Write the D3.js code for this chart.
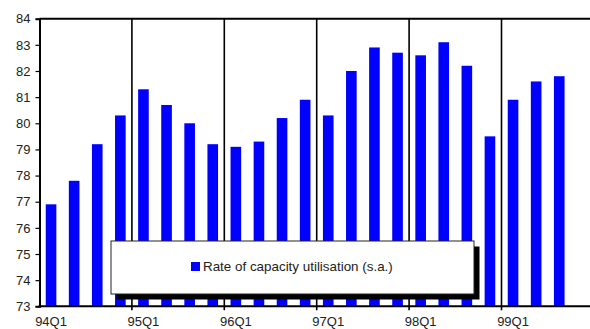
<!DOCTYPE html>
<html>
<head>
<meta charset="utf-8">
<script src="https://cdn.jsdelivr.net/npm/d3@7"></script>
<style>
body{margin:0;background:#fff;}
svg{display:block;font-family:"Liberation Sans",Arial,sans-serif;}
</style>
</head>
<body>
<div id="chart"></div>
<script>
// quarters shown on the axis (99Q4 slot is empty, chart is cut at the right edge)
const quarters=["94Q1","94Q2","94Q3","94Q4","95Q1","95Q2","95Q3","95Q4",
                "96Q1","96Q2","96Q3","96Q4","97Q1","97Q2","97Q3","97Q4",
                "98Q1","98Q2","98Q3","98Q4","99Q1","99Q2","99Q3","99Q4"];
const utilisation=[76.9,77.8,79.2,80.3,81.3,80.7,80.0,79.2,
                   79.1,79.3,80.2,80.9,80.3,82.0,82.9,82.7,
                   82.6,83.1,82.2,79.5,80.9,81.6,81.8];
const yTicks=[73,74,75,76,77,78,79,80,81,82,83,84];
const yearLabels=["94Q1","95Q1","96Q1","97Q1","98Q1","99Q1"];
const legendLabel="Rate of capacity utilisation (s.a.)";

const W=590,H=329;
const pLeft=39.5,pTop=18.7,pBottom=306.3,step=23.1;

const svg=d3.select("#chart").append("svg").attr("width",W).attr("height",H);

const x=d3.scaleBand().domain(quarters).range([pLeft,pLeft+step*quarters.length]).padding(0);
const y=d3.scaleLinear().domain([73,84]).range([pBottom,pTop]);
const barW=x.bandwidth()*0.46;

// bars
svg.append("g").selectAll("rect")
   .data(utilisation)
   .enter().append("rect")
   .attr("x",(d,i)=>x(quarters[i])+(x.bandwidth()-barW)/2)
   .attr("y",d=>y(d))
   .attr("width",barW)
   .attr("height",d=>y(73)-y(d))
   .attr("fill","#0000ff");

// year dividers + small ticks below the axis
yearLabels.slice(1).forEach(q=>{
  svg.append("line").attr("x1",x(q)).attr("x2",x(q))
     .attr("y1",pTop).attr("y2",pBottom+4)
     .attr("stroke","#000").attr("stroke-width",1.6);
});

// top border
svg.append("line").attr("x1",pLeft).attr("x2",W).attr("y1",pTop).attr("y2",pTop)
   .attr("stroke","#000").attr("stroke-width",2);

// y axis
const yAxis=svg.append("g").attr("transform",`translate(${pLeft},0)`)
   .call(d3.axisLeft(y).tickValues(yTicks).tickSize(4).tickPadding(5));
yAxis.select(".domain").attr("stroke","#000").attr("stroke-width",2);
yAxis.selectAll(".tick line").attr("stroke","#000").attr("stroke-width",1.2);
yAxis.selectAll("text").attr("font-size",13).attr("fill","#222")
   .attr("font-family","Liberation Sans, Arial, sans-serif");

// x axis: labels centered on each Q1 band (kept just inside the bottom edge)
const xAxis=svg.append("g").attr("transform",`translate(0,${pBottom})`)
   .call(d3.axisBottom(x).tickValues(yearLabels).tickSize(0).tickPadding(10));
xAxis.select(".domain").remove();
xAxis.selectAll("text").attr("font-size",13).attr("fill","#222")
   .attr("font-family","Liberation Sans, Arial, sans-serif");
svg.append("line").attr("x1",pLeft-1).attr("x2",W).attr("y1",pBottom).attr("y2",pBottom)
   .attr("stroke","#000").attr("stroke-width",2);

// legend with drop shadow
const lg={x:111,y:241,w:363,h:53};
svg.append("rect").attr("x",lg.x+5.5).attr("y",lg.y+5.5).attr("width",lg.w).attr("height",lg.h)
   .attr("fill","#000");
svg.append("rect").attr("x",lg.x).attr("y",lg.y).attr("width",lg.w).attr("height",lg.h)
   .attr("fill","#fff").attr("stroke","#222").attr("stroke-width",1);
svg.append("rect").attr("x",191).attr("y",262).attr("width",9).attr("height",9).attr("fill","#0000ff");
svg.append("text").attr("x",203).attr("y",271).attr("font-size",13.4).attr("fill","#222")
   .text(legendLabel);
</script>
</body>
</html>
